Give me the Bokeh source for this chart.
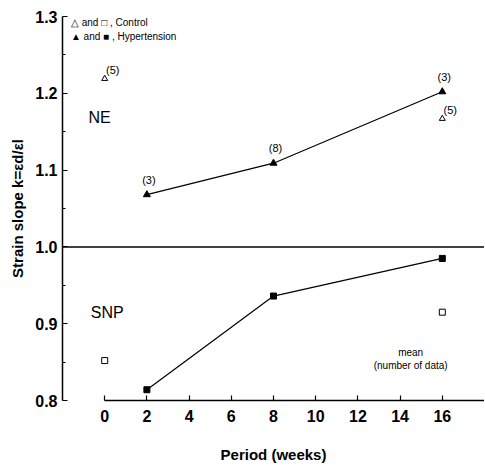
from bokeh.plotting import figure
from bokeh.models import FixedTicker, Span, ColumnDataSource
from bokeh.core.properties import value
from bokeh.embed import file_html
from bokeh.resources import INLINE

# ---- data ----
weeks_hyp = [2, 8, 16]
ne_hyp = [1.068, 1.109, 1.202]
ne_hyp_n = ["(3)", "(8)", "(3)"]
snp_hyp = [0.814, 0.936, 0.985]

weeks_ctrl = [0, 16]
ne_ctrl = [1.219, 1.167]
ne_ctrl_n = ["(5)", "(5)"]
snp_ctrl = [0.852, 0.915]

x_ticks = [0, 2, 4, 6, 8, 10, 12, 14, 16]
y_ticks = [0.8, 0.9, 1.0, 1.1, 1.2, 1.3]
y_tick_labels = ["0.8", "0.9", "1.0", "1.1", "1.2", "1.3"]

FONT = "Liberation Sans"

p = figure(width=484, height=465, x_range=(-2, 18), y_range=(0.8, 1.3),
           output_backend="svg", toolbar_location=None,
           min_border_left=62, min_border_right=0, min_border_top=16, min_border_bottom=65)
p.outline_line_color = None
p.grid.visible = False
p.background_fill_color = "white"

# axes
xa = p.xaxis[0]
xa.ticker = FixedTicker(ticks=x_ticks)
xa.bounds = (0, 18)
xa.major_tick_in = 5
xa.major_tick_out = 0
xa.minor_tick_in = 0
xa.minor_tick_out = 0
xa.axis_line_width = 1.5
xa.axis_line_color = "black"
xa.major_tick_line_color = "black"
xa.major_tick_line_width = 1.2
xa.major_label_text_font = FONT
xa.major_label_text_font_style = "bold"
xa.major_label_text_font_size = "16px"
xa.major_label_text_color = "black"
xa.major_label_standoff = 9
xa.axis_label = "Period (weeks)"
xa.axis_label_text_font = FONT
xa.axis_label_text_font_style = "bold"
xa.axis_label_text_font_size = "15px"
xa.axis_label_text_color = "black"
xa.axis_label_standoff = 21

ya = p.yaxis[0]
ya.ticker = FixedTicker(ticks=y_ticks, minor_ticks=[0.85, 0.95, 1.05, 1.15, 1.25])
ya.major_label_overrides = {t: l for t, l in zip(y_ticks, y_tick_labels)}
ya.bounds = (0.8, 1.3)
ya.major_tick_in = 5
ya.major_tick_out = 0
ya.minor_tick_in = 3
ya.minor_tick_out = 0
ya.axis_line_width = 1.5
ya.axis_line_color = "black"
ya.major_tick_line_color = "black"
ya.minor_tick_line_color = "black"
ya.major_label_text_font = FONT
ya.major_label_text_font_style = "bold"
ya.major_label_text_font_size = "16px"
ya.major_label_text_color = "black"
ya.major_label_standoff = 5
ya.axis_label = "Strain slope k=εd/εl"
ya.axis_label_text_font = FONT
ya.axis_label_text_font_style = "bold"
ya.axis_label_text_font_size = "15px"
ya.axis_label_text_color = "black"
ya.axis_label_standoff = 6

# horizontal reference line at 1.0
p.add_layout(Span(location=1.0, dimension="width", line_color="black", line_width=1.5))

# hypertension lines
p.line(weeks_hyp, ne_hyp, line_color="black", line_width=1.2)
p.scatter(weeks_hyp, ne_hyp, marker="triangle", size=7, color="black")
p.line(weeks_hyp, snp_hyp, line_color="black", line_width=1.2)
p.scatter(weeks_hyp, snp_hyp, marker="square", size=6, color="black")

# controls
p.scatter(weeks_ctrl, ne_ctrl, marker="triangle", size=6, fill_color="white",
          line_color="black", line_width=1)
p.scatter(weeks_ctrl, snp_ctrl, marker="square", size=6, fill_color="white",
          line_color="black", line_width=1)

# number labels
src_h = ColumnDataSource(dict(x=weeks_hyp, y=ne_hyp, t=ne_hyp_n))
p.text(x="x", y="y", text="t", source=src_h, x_offset=2, y_offset=-15,
       text_align="center", text_baseline="middle", text_font=value(FONT),
       text_font_size="11px", text_color="black")
src_c = ColumnDataSource(dict(x=weeks_ctrl, y=ne_ctrl, t=ne_ctrl_n))
p.text(x="x", y="y", text="t", source=src_c, x_offset=8, y_offset=-9,
       text_align="center", text_baseline="middle", text_font=value(FONT),
       text_font_size="11px", text_color="black")

# region labels
p.text(x=[-0.24], y=[1.168], text=["NE"], text_align="center", text_baseline="middle",
       text_font=value(FONT), text_font_size="16px", text_color="black")
p.text(x=[0.12], y=[0.915], text=["SNP"], text_align="center", text_baseline="middle",
       text_font=value(FONT), text_font_size="16px", text_color="black")

# legend-like notes
p.text(x=[-1.6, -1.6], y=[1.292, 1.274],
       text=["△ and □ , Control", "▲ and ■ , Hypertension"],
       text_align="left", text_baseline="middle", text_font=value(FONT),
       text_font_size="10px", text_color="black")

p.text(x=[14.5, 14.5], y=[0.863, 0.845], text=["mean", "(number of data)"],
       text_align="center", text_baseline="middle", text_font=value(FONT),
       text_font_size="10px", text_color="black")

open("out.html", "w").write(file_html(p, INLINE))
